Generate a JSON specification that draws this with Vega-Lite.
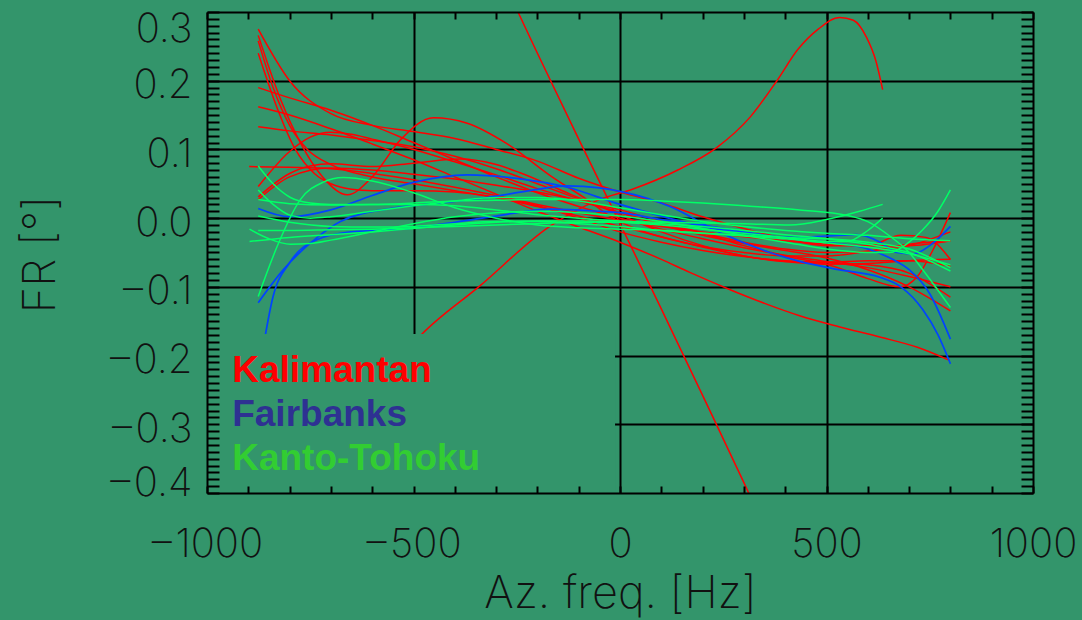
{
  "$schema": "https://vega.github.io/schema/vega-lite/v6.json",
  "width": 826,
  "height": 481,
  "autosize": {"type": "none"},
  "padding": {"left": 207, "top": 12, "right": 49, "bottom": 127},
  "background": "#33956b",
  "config": {"view": {"stroke": null}},
  "datasets": {
    "curves": [
      {"g":"Kalimantan","id":"R1","x":-876,"y":0.275},{"g":"Kalimantan","id":"R1","x":-800,"y":0.2},{"g":"Kalimantan","id":"R1","x":-700,"y":0.152},{"g":"Kalimantan","id":"R1","x":-600,"y":0.135},{"g":"Kalimantan","id":"R1","x":-500,"y":0.126},{"g":"Kalimantan","id":"R1","x":-400,"y":0.116},{"g":"Kalimantan","id":"R1","x":-300,"y":0.1},{"g":"Kalimantan","id":"R1","x":-200,"y":0.083},{"g":"Kalimantan","id":"R1","x":-100,"y":0.058},{"g":"Kalimantan","id":"R1","x":0,"y":0.038},{"g":"Kalimantan","id":"R1","x":100,"y":0.022},{"g":"Kalimantan","id":"R1","x":200,"y":0.002},{"g":"Kalimantan","id":"R1","x":300,"y":-0.015},{"g":"Kalimantan","id":"R1","x":400,"y":-0.03},{"g":"Kalimantan","id":"R1","x":500,"y":-0.04},{"g":"Kalimantan","id":"R1","x":600,"y":-0.04},{"g":"Kalimantan","id":"R1","x":680,"y":-0.025},{"g":"Kalimantan","id":"R1","x":740,"y":-0.028},{"g":"Kalimantan","id":"R1","x":800,"y":-0.06},
      {"g":"Kalimantan","id":"R2","x":-876,"y":0.266},{"g":"Kalimantan","id":"R2","x":-820,"y":0.17},{"g":"Kalimantan","id":"R2","x":-774,"y":0.11},{"g":"Kalimantan","id":"R2","x":-720,"y":0.06},{"g":"Kalimantan","id":"R2","x":-660,"y":0.034},{"g":"Kalimantan","id":"R2","x":-600,"y":0.06},{"g":"Kalimantan","id":"R2","x":-530,"y":0.115},{"g":"Kalimantan","id":"R2","x":-452,"y":0.146},{"g":"Kalimantan","id":"R2","x":-370,"y":0.138},{"g":"Kalimantan","id":"R2","x":-273,"y":0.108},{"g":"Kalimantan","id":"R2","x":-169,"y":0.062},{"g":"Kalimantan","id":"R2","x":-80,"y":0.027},{"g":"Kalimantan","id":"R2","x":-17,"y":0.0},{"g":"Kalimantan","id":"R2","x":50,"y":-0.018},{"g":"Kalimantan","id":"R2","x":150,"y":-0.035},{"g":"Kalimantan","id":"R2","x":300,"y":-0.05},{"g":"Kalimantan","id":"R2","x":400,"y":-0.055},{"g":"Kalimantan","id":"R2","x":500,"y":-0.055},{"g":"Kalimantan","id":"R2","x":600,"y":-0.048},{"g":"Kalimantan","id":"R2","x":700,"y":-0.038},{"g":"Kalimantan","id":"R2","x":800,"y":-0.033},
      {"g":"Kalimantan","id":"R3","x":-876,"y":0.24},{"g":"Kalimantan","id":"R3","x":-830,"y":0.16},{"g":"Kalimantan","id":"R3","x":-786,"y":0.1},{"g":"Kalimantan","id":"R3","x":-740,"y":0.065},{"g":"Kalimantan","id":"R3","x":-700,"y":0.05},{"g":"Kalimantan","id":"R3","x":-650,"y":0.042},{"g":"Kalimantan","id":"R3","x":-600,"y":0.04},{"g":"Kalimantan","id":"R3","x":-500,"y":0.04},{"g":"Kalimantan","id":"R3","x":-400,"y":0.038},{"g":"Kalimantan","id":"R3","x":-300,"y":0.03},{"g":"Kalimantan","id":"R3","x":-200,"y":0.018},{"g":"Kalimantan","id":"R3","x":-100,"y":0.0},{"g":"Kalimantan","id":"R3","x":0,"y":-0.02},{"g":"Kalimantan","id":"R3","x":100,"y":-0.035},{"g":"Kalimantan","id":"R3","x":200,"y":-0.047},{"g":"Kalimantan","id":"R3","x":300,"y":-0.056},{"g":"Kalimantan","id":"R3","x":400,"y":-0.062},{"g":"Kalimantan","id":"R3","x":500,"y":-0.065},{"g":"Kalimantan","id":"R3","x":600,"y":-0.068},{"g":"Kalimantan","id":"R3","x":700,"y":-0.08},{"g":"Kalimantan","id":"R3","x":800,"y":-0.115},
      {"g":"Kalimantan","id":"R4","x":-876,"y":0.258},{"g":"Kalimantan","id":"R4","x":-840,"y":0.19},{"g":"Kalimantan","id":"R4","x":-800,"y":0.135},{"g":"Kalimantan","id":"R4","x":-757,"y":0.1},{"g":"Kalimantan","id":"R4","x":-700,"y":0.078},{"g":"Kalimantan","id":"R4","x":-600,"y":0.06},{"g":"Kalimantan","id":"R4","x":-500,"y":0.05},{"g":"Kalimantan","id":"R4","x":-400,"y":0.04},{"g":"Kalimantan","id":"R4","x":-300,"y":0.03},{"g":"Kalimantan","id":"R4","x":-200,"y":0.017},{"g":"Kalimantan","id":"R4","x":-100,"y":0.003},{"g":"Kalimantan","id":"R4","x":0,"y":-0.012},{"g":"Kalimantan","id":"R4","x":100,"y":-0.027},{"g":"Kalimantan","id":"R4","x":200,"y":-0.042},{"g":"Kalimantan","id":"R4","x":300,"y":-0.055},{"g":"Kalimantan","id":"R4","x":400,"y":-0.063},{"g":"Kalimantan","id":"R4","x":500,"y":-0.064},{"g":"Kalimantan","id":"R4","x":600,"y":-0.062},{"g":"Kalimantan","id":"R4","x":700,"y":-0.062},{"g":"Kalimantan","id":"R4","x":800,"y":-0.07},
      {"g":"Kalimantan","id":"R5","x":-876,"y":0.19},{"g":"Kalimantan","id":"R5","x":-800,"y":0.175},{"g":"Kalimantan","id":"R5","x":-700,"y":0.157},{"g":"Kalimantan","id":"R5","x":-600,"y":0.135},{"g":"Kalimantan","id":"R5","x":-500,"y":0.11},{"g":"Kalimantan","id":"R5","x":-400,"y":0.085},{"g":"Kalimantan","id":"R5","x":-300,"y":0.06},{"g":"Kalimantan","id":"R5","x":-200,"y":0.037},{"g":"Kalimantan","id":"R5","x":-100,"y":0.017},{"g":"Kalimantan","id":"R5","x":0,"y":0.0},{"g":"Kalimantan","id":"R5","x":100,"y":-0.016},{"g":"Kalimantan","id":"R5","x":200,"y":-0.03},{"g":"Kalimantan","id":"R5","x":300,"y":-0.043},{"g":"Kalimantan","id":"R5","x":400,"y":-0.054},{"g":"Kalimantan","id":"R5","x":500,"y":-0.063},{"g":"Kalimantan","id":"R5","x":600,"y":-0.072},{"g":"Kalimantan","id":"R5","x":700,"y":-0.085},{"g":"Kalimantan","id":"R5","x":800,"y":-0.1},
      {"g":"Kalimantan","id":"R6","x":-876,"y":0.162},{"g":"Kalimantan","id":"R6","x":-800,"y":0.15},{"g":"Kalimantan","id":"R6","x":-700,"y":0.13},{"g":"Kalimantan","id":"R6","x":-600,"y":0.108},{"g":"Kalimantan","id":"R6","x":-500,"y":0.085},{"g":"Kalimantan","id":"R6","x":-400,"y":0.06},{"g":"Kalimantan","id":"R6","x":-300,"y":0.035},{"g":"Kalimantan","id":"R6","x":-200,"y":0.01},{"g":"Kalimantan","id":"R6","x":-100,"y":-0.013},{"g":"Kalimantan","id":"R6","x":0,"y":-0.035},{"g":"Kalimantan","id":"R6","x":100,"y":-0.06},{"g":"Kalimantan","id":"R6","x":169,"y":-0.079},{"g":"Kalimantan","id":"R6","x":274,"y":-0.106},{"g":"Kalimantan","id":"R6","x":350,"y":-0.124},{"g":"Kalimantan","id":"R6","x":435,"y":-0.142},{"g":"Kalimantan","id":"R6","x":530,"y":-0.158},{"g":"Kalimantan","id":"R6","x":629,"y":-0.173},{"g":"Kalimantan","id":"R6","x":720,"y":-0.188},{"g":"Kalimantan","id":"R6","x":798,"y":-0.207},
      {"g":"Kalimantan","id":"R7","x":-876,"y":0.133},{"g":"Kalimantan","id":"R7","x":-800,"y":0.127},{"g":"Kalimantan","id":"R7","x":-700,"y":0.121},{"g":"Kalimantan","id":"R7","x":-600,"y":0.113},{"g":"Kalimantan","id":"R7","x":-500,"y":0.104},{"g":"Kalimantan","id":"R7","x":-400,"y":0.09},{"g":"Kalimantan","id":"R7","x":-300,"y":0.072},{"g":"Kalimantan","id":"R7","x":-200,"y":0.05},{"g":"Kalimantan","id":"R7","x":-100,"y":0.028},{"g":"Kalimantan","id":"R7","x":0,"y":0.008},{"g":"Kalimantan","id":"R7","x":100,"y":-0.01},{"g":"Kalimantan","id":"R7","x":200,"y":-0.025},{"g":"Kalimantan","id":"R7","x":300,"y":-0.037},{"g":"Kalimantan","id":"R7","x":400,"y":-0.047},{"g":"Kalimantan","id":"R7","x":500,"y":-0.058},{"g":"Kalimantan","id":"R7","x":600,"y":-0.075},{"g":"Kalimantan","id":"R7","x":700,"y":-0.1},{"g":"Kalimantan","id":"R7","x":800,"y":-0.135},
      {"g":"Kalimantan","id":"R8","x":-898,"y":0.075},{"g":"Kalimantan","id":"R8","x":-800,"y":0.074},{"g":"Kalimantan","id":"R8","x":-700,"y":0.072},{"g":"Kalimantan","id":"R8","x":-600,"y":0.065},{"g":"Kalimantan","id":"R8","x":-500,"y":0.056},{"g":"Kalimantan","id":"R8","x":-400,"y":0.045},{"g":"Kalimantan","id":"R8","x":-300,"y":0.033},{"g":"Kalimantan","id":"R8","x":-200,"y":0.02},{"g":"Kalimantan","id":"R8","x":-100,"y":0.008},{"g":"Kalimantan","id":"R8","x":0,"y":-0.003},{"g":"Kalimantan","id":"R8","x":100,"y":-0.012},{"g":"Kalimantan","id":"R8","x":200,"y":-0.02},{"g":"Kalimantan","id":"R8","x":300,"y":-0.027},{"g":"Kalimantan","id":"R8","x":400,"y":-0.033},{"g":"Kalimantan","id":"R8","x":500,"y":-0.038},{"g":"Kalimantan","id":"R8","x":600,"y":-0.04},{"g":"Kalimantan","id":"R8","x":700,"y":-0.04},{"g":"Kalimantan","id":"R8","x":800,"y":-0.033},
      {"g":"Kalimantan","id":"R9","x":-876,"y":0.046},{"g":"Kalimantan","id":"R9","x":-800,"y":0.097},{"g":"Kalimantan","id":"R9","x":-750,"y":0.118},{"g":"Kalimantan","id":"R9","x":-700,"y":0.125},{"g":"Kalimantan","id":"R9","x":-650,"y":0.122},{"g":"Kalimantan","id":"R9","x":-600,"y":0.115},{"g":"Kalimantan","id":"R9","x":-500,"y":0.1},{"g":"Kalimantan","id":"R9","x":-400,"y":0.082},{"g":"Kalimantan","id":"R9","x":-300,"y":0.063},{"g":"Kalimantan","id":"R9","x":-200,"y":0.043},{"g":"Kalimantan","id":"R9","x":-100,"y":0.025},{"g":"Kalimantan","id":"R9","x":0,"y":0.008},{"g":"Kalimantan","id":"R9","x":100,"y":-0.008},{"g":"Kalimantan","id":"R9","x":200,"y":-0.022},{"g":"Kalimantan","id":"R9","x":300,"y":-0.035},{"g":"Kalimantan","id":"R9","x":400,"y":-0.045},{"g":"Kalimantan","id":"R9","x":500,"y":-0.05},{"g":"Kalimantan","id":"R9","x":600,"y":-0.048},{"g":"Kalimantan","id":"R9","x":700,"y":-0.04},{"g":"Kalimantan","id":"R9","x":800,"y":-0.02},
      {"g":"Kalimantan","id":"R10","x":-876,"y":0.031},{"g":"Kalimantan","id":"R10","x":-800,"y":0.065},{"g":"Kalimantan","id":"R10","x":-750,"y":0.076},{"g":"Kalimantan","id":"R10","x":-700,"y":0.079},{"g":"Kalimantan","id":"R10","x":-600,"y":0.075},{"g":"Kalimantan","id":"R10","x":-500,"y":0.08},{"g":"Kalimantan","id":"R10","x":-387,"y":0.086},{"g":"Kalimantan","id":"R10","x":-300,"y":0.078},{"g":"Kalimantan","id":"R10","x":-242,"y":0.066},{"g":"Kalimantan","id":"R10","x":-121,"y":0.035},{"g":"Kalimantan","id":"R10","x":0,"y":0.005},{"g":"Kalimantan","id":"R10","x":100,"y":-0.02},{"g":"Kalimantan","id":"R10","x":200,"y":-0.04},{"g":"Kalimantan","id":"R10","x":300,"y":-0.055},{"g":"Kalimantan","id":"R10","x":400,"y":-0.063},{"g":"Kalimantan","id":"R10","x":500,"y":-0.067},{"g":"Kalimantan","id":"R10","x":600,"y":-0.066},{"g":"Kalimantan","id":"R10","x":700,"y":-0.062},{"g":"Kalimantan","id":"R10","x":800,"y":-0.06},
      {"g":"Kalimantan","id":"R11","x":-876,"y":0.027},{"g":"Kalimantan","id":"R11","x":-800,"y":0.06},{"g":"Kalimantan","id":"R11","x":-700,"y":0.073},{"g":"Kalimantan","id":"R11","x":-600,"y":0.07},{"g":"Kalimantan","id":"R11","x":-500,"y":0.064},{"g":"Kalimantan","id":"R11","x":-400,"y":0.057},{"g":"Kalimantan","id":"R11","x":-300,"y":0.048},{"g":"Kalimantan","id":"R11","x":-200,"y":0.038},{"g":"Kalimantan","id":"R11","x":-100,"y":0.026},{"g":"Kalimantan","id":"R11","x":0,"y":0.012},{"g":"Kalimantan","id":"R11","x":100,"y":-0.005},{"g":"Kalimantan","id":"R11","x":200,"y":-0.022},{"g":"Kalimantan","id":"R11","x":300,"y":-0.04},{"g":"Kalimantan","id":"R11","x":400,"y":-0.055},{"g":"Kalimantan","id":"R11","x":516,"y":-0.07},{"g":"Kalimantan","id":"R11","x":600,"y":-0.088},{"g":"Kalimantan","id":"R11","x":677,"y":-0.1},{"g":"Kalimantan","id":"R11","x":720,"y":-0.085},{"g":"Kalimantan","id":"R11","x":758,"y":-0.046},{"g":"Kalimantan","id":"R11","x":800,"y":0.008},
      {"g":"Kalimantan","id":"R12","x":-300,"y":0.366},{"g":"Kalimantan","id":"R12","x":-247,"y":0.3},{"g":"Kalimantan","id":"R12","x":-200,"y":0.24},{"g":"Kalimantan","id":"R12","x":-100,"y":0.115},{"g":"Kalimantan","id":"R12","x":0,"y":-0.008},{"g":"Kalimantan","id":"R12","x":100,"y":-0.132},{"g":"Kalimantan","id":"R12","x":200,"y":-0.258},{"g":"Kalimantan","id":"R12","x":300,"y":-0.385},{"g":"Kalimantan","id":"R12","x":350,"y":-0.45},
      {"g":"Kalimantan","id":"R13","x":-620,"y":-0.27},{"g":"Kalimantan","id":"R13","x":-480,"y":-0.169},{"g":"Kalimantan","id":"R13","x":-340,"y":-0.099},{"g":"Kalimantan","id":"R13","x":-170,"y":-0.012},{"g":"Kalimantan","id":"R13","x":-50,"y":0.027},{"g":"Kalimantan","id":"R13","x":30,"y":0.042},{"g":"Kalimantan","id":"R13","x":140,"y":0.07},{"g":"Kalimantan","id":"R13","x":235,"y":0.103},{"g":"Kalimantan","id":"R13","x":315,"y":0.147},{"g":"Kalimantan","id":"R13","x":380,"y":0.2},{"g":"Kalimantan","id":"R13","x":430,"y":0.245},{"g":"Kalimantan","id":"R13","x":480,"y":0.275},{"g":"Kalimantan","id":"R13","x":532,"y":0.292},{"g":"Kalimantan","id":"R13","x":565,"y":0.288},{"g":"Kalimantan","id":"R13","x":597,"y":0.263},{"g":"Kalimantan","id":"R13","x":620,"y":0.228},{"g":"Kalimantan","id":"R13","x":636,"y":0.187},
      {"g":"Fairbanks","id":"B1","x":-876,"y":0.014},{"g":"Fairbanks","id":"B1","x":-800,"y":0.002},{"g":"Fairbanks","id":"B1","x":-700,"y":0.012},{"g":"Fairbanks","id":"B1","x":-600,"y":0.033},{"g":"Fairbanks","id":"B1","x":-500,"y":0.052},{"g":"Fairbanks","id":"B1","x":-370,"y":0.063},{"g":"Fairbanks","id":"B1","x":-250,"y":0.058},{"g":"Fairbanks","id":"B1","x":-128,"y":0.045},{"g":"Fairbanks","id":"B1","x":0,"y":0.02},{"g":"Fairbanks","id":"B1","x":100,"y":0.003},{"g":"Fairbanks","id":"B1","x":200,"y":-0.012},{"g":"Fairbanks","id":"B1","x":300,"y":-0.022},{"g":"Fairbanks","id":"B1","x":411,"y":-0.028},{"g":"Fairbanks","id":"B1","x":500,"y":-0.026},{"g":"Fairbanks","id":"B1","x":573,"y":-0.024},{"g":"Fairbanks","id":"B1","x":630,"y":-0.035},{"g":"Fairbanks","id":"B1","x":670,"y":-0.05},{"g":"Fairbanks","id":"B1","x":710,"y":-0.052},{"g":"Fairbanks","id":"B1","x":750,"y":-0.04},{"g":"Fairbanks","id":"B1","x":800,"y":-0.012},
      {"g":"Fairbanks","id":"B2","x":-876,"y":-0.123},{"g":"Fairbanks","id":"B2","x":-815,"y":-0.075},{"g":"Fairbanks","id":"B2","x":-733,"y":-0.028},{"g":"Fairbanks","id":"B2","x":-677,"y":-0.005},{"g":"Fairbanks","id":"B2","x":-556,"y":0.014},{"g":"Fairbanks","id":"B2","x":-435,"y":0.022},{"g":"Fairbanks","id":"B2","x":-300,"y":0.032},{"g":"Fairbanks","id":"B2","x":-200,"y":0.042},{"g":"Fairbanks","id":"B2","x":-128,"y":0.047},{"g":"Fairbanks","id":"B2","x":-50,"y":0.044},{"g":"Fairbanks","id":"B2","x":0,"y":0.039},{"g":"Fairbanks","id":"B2","x":121,"y":0.017},{"g":"Fairbanks","id":"B2","x":242,"y":-0.021},{"g":"Fairbanks","id":"B2","x":363,"y":-0.05},{"g":"Fairbanks","id":"B2","x":435,"y":-0.063},{"g":"Fairbanks","id":"B2","x":529,"y":-0.075},{"g":"Fairbanks","id":"B2","x":629,"y":-0.086},{"g":"Fairbanks","id":"B2","x":680,"y":-0.1},{"g":"Fairbanks","id":"B2","x":733,"y":-0.133},{"g":"Fairbanks","id":"B2","x":770,"y":-0.17},{"g":"Fairbanks","id":"B2","x":800,"y":-0.212},
      {"g":"Fairbanks","id":"B3","x":-870,"y":-0.21},{"g":"Fairbanks","id":"B3","x":-840,"y":-0.114},{"g":"Fairbanks","id":"B3","x":-800,"y":-0.065},{"g":"Fairbanks","id":"B3","x":-733,"y":-0.031},{"g":"Fairbanks","id":"B3","x":-650,"y":-0.02},{"g":"Fairbanks","id":"B3","x":-532,"y":-0.016},{"g":"Fairbanks","id":"B3","x":-400,"y":-0.006},{"g":"Fairbanks","id":"B3","x":-300,"y":0.003},{"g":"Fairbanks","id":"B3","x":-169,"y":0.013},{"g":"Fairbanks","id":"B3","x":-50,"y":0.01},{"g":"Fairbanks","id":"B3","x":0,"y":0.008},{"g":"Fairbanks","id":"B3","x":100,"y":-0.002},{"g":"Fairbanks","id":"B3","x":200,"y":-0.01},{"g":"Fairbanks","id":"B3","x":300,"y":-0.02},{"g":"Fairbanks","id":"B3","x":411,"y":-0.03},{"g":"Fairbanks","id":"B3","x":500,"y":-0.035},{"g":"Fairbanks","id":"B3","x":600,"y":-0.045},{"g":"Fairbanks","id":"B3","x":660,"y":-0.06},{"g":"Fairbanks","id":"B3","x":700,"y":-0.075},{"g":"Fairbanks","id":"B3","x":750,"y":-0.11},{"g":"Fairbanks","id":"B3","x":800,"y":-0.176},
      {"g":"Kanto-Tohoku","id":"G1","x":-876,"y":0.076},{"g":"Kanto-Tohoku","id":"G1","x":-840,"y":0.05},{"g":"Kanto-Tohoku","id":"G1","x":-798,"y":0.03},{"g":"Kanto-Tohoku","id":"G1","x":-750,"y":0.022},{"g":"Kanto-Tohoku","id":"G1","x":-700,"y":0.02},{"g":"Kanto-Tohoku","id":"G1","x":-600,"y":0.02},{"g":"Kanto-Tohoku","id":"G1","x":-500,"y":0.022},{"g":"Kanto-Tohoku","id":"G1","x":-400,"y":0.025},{"g":"Kanto-Tohoku","id":"G1","x":-300,"y":0.026},{"g":"Kanto-Tohoku","id":"G1","x":-200,"y":0.027},{"g":"Kanto-Tohoku","id":"G1","x":-100,"y":0.027},{"g":"Kanto-Tohoku","id":"G1","x":0,"y":0.027},{"g":"Kanto-Tohoku","id":"G1","x":100,"y":0.025},{"g":"Kanto-Tohoku","id":"G1","x":200,"y":0.022},{"g":"Kanto-Tohoku","id":"G1","x":300,"y":0.018},{"g":"Kanto-Tohoku","id":"G1","x":435,"y":0.012},{"g":"Kanto-Tohoku","id":"G1","x":550,"y":0.004},{"g":"Kanto-Tohoku","id":"G1","x":600,"y":-0.005},{"g":"Kanto-Tohoku","id":"G1","x":653,"y":-0.026},{"g":"Kanto-Tohoku","id":"G1","x":700,"y":-0.05},{"g":"Kanto-Tohoku","id":"G1","x":733,"y":-0.075},{"g":"Kanto-Tohoku","id":"G1","x":800,"y":-0.13},
      {"g":"Kanto-Tohoku","id":"G2","x":-876,"y":0.041},{"g":"Kanto-Tohoku","id":"G2","x":-840,"y":0.02},{"g":"Kanto-Tohoku","id":"G2","x":-798,"y":0.004},{"g":"Kanto-Tohoku","id":"G2","x":-750,"y":0.0},{"g":"Kanto-Tohoku","id":"G2","x":-700,"y":0.002},{"g":"Kanto-Tohoku","id":"G2","x":-600,"y":0.01},{"g":"Kanto-Tohoku","id":"G2","x":-500,"y":0.018},{"g":"Kanto-Tohoku","id":"G2","x":-400,"y":0.025},{"g":"Kanto-Tohoku","id":"G2","x":-300,"y":0.03},{"g":"Kanto-Tohoku","id":"G2","x":-200,"y":0.03},{"g":"Kanto-Tohoku","id":"G2","x":-100,"y":0.025},{"g":"Kanto-Tohoku","id":"G2","x":0,"y":0.015},{"g":"Kanto-Tohoku","id":"G2","x":100,"y":0.005},{"g":"Kanto-Tohoku","id":"G2","x":200,"y":-0.005},{"g":"Kanto-Tohoku","id":"G2","x":300,"y":-0.012},{"g":"Kanto-Tohoku","id":"G2","x":400,"y":-0.018},{"g":"Kanto-Tohoku","id":"G2","x":500,"y":-0.022},{"g":"Kanto-Tohoku","id":"G2","x":600,"y":-0.025},{"g":"Kanto-Tohoku","id":"G2","x":700,"y":-0.03},{"g":"Kanto-Tohoku","id":"G2","x":800,"y":-0.033},
      {"g":"Kanto-Tohoku","id":"G3","x":-876,"y":0.027},{"g":"Kanto-Tohoku","id":"G3","x":-800,"y":0.021},{"g":"Kanto-Tohoku","id":"G3","x":-700,"y":0.019},{"g":"Kanto-Tohoku","id":"G3","x":-600,"y":0.02},{"g":"Kanto-Tohoku","id":"G3","x":-500,"y":0.02},{"g":"Kanto-Tohoku","id":"G3","x":-400,"y":0.018},{"g":"Kanto-Tohoku","id":"G3","x":-300,"y":0.012},{"g":"Kanto-Tohoku","id":"G3","x":-200,"y":0.005},{"g":"Kanto-Tohoku","id":"G3","x":-100,"y":0.0},{"g":"Kanto-Tohoku","id":"G3","x":0,"y":-0.004},{"g":"Kanto-Tohoku","id":"G3","x":100,"y":-0.006},{"g":"Kanto-Tohoku","id":"G3","x":200,"y":-0.007},{"g":"Kanto-Tohoku","id":"G3","x":300,"y":-0.008},{"g":"Kanto-Tohoku","id":"G3","x":411,"y":-0.01},{"g":"Kanto-Tohoku","id":"G3","x":500,"y":-0.002},{"g":"Kanto-Tohoku","id":"G3","x":580,"y":0.01},{"g":"Kanto-Tohoku","id":"G3","x":636,"y":0.02},
      {"g":"Kanto-Tohoku","id":"G4","x":-876,"y":0.003},{"g":"Kanto-Tohoku","id":"G4","x":-800,"y":-0.006},{"g":"Kanto-Tohoku","id":"G4","x":-700,"y":-0.012},{"g":"Kanto-Tohoku","id":"G4","x":-600,"y":-0.013},{"g":"Kanto-Tohoku","id":"G4","x":-500,"y":-0.012},{"g":"Kanto-Tohoku","id":"G4","x":-400,"y":-0.008},{"g":"Kanto-Tohoku","id":"G4","x":-300,"y":-0.005},{"g":"Kanto-Tohoku","id":"G4","x":-200,"y":-0.005},{"g":"Kanto-Tohoku","id":"G4","x":-100,"y":-0.008},{"g":"Kanto-Tohoku","id":"G4","x":0,"y":-0.012},{"g":"Kanto-Tohoku","id":"G4","x":100,"y":-0.018},{"g":"Kanto-Tohoku","id":"G4","x":200,"y":-0.022},{"g":"Kanto-Tohoku","id":"G4","x":300,"y":-0.025},{"g":"Kanto-Tohoku","id":"G4","x":400,"y":-0.028},{"g":"Kanto-Tohoku","id":"G4","x":500,"y":-0.03},{"g":"Kanto-Tohoku","id":"G4","x":600,"y":-0.035},{"g":"Kanto-Tohoku","id":"G4","x":700,"y":-0.045},{"g":"Kanto-Tohoku","id":"G4","x":800,"y":-0.072},
      {"g":"Kanto-Tohoku","id":"G5","x":-897,"y":-0.016},{"g":"Kanto-Tohoku","id":"G5","x":-850,"y":-0.03},{"g":"Kanto-Tohoku","id":"G5","x":-798,"y":-0.038},{"g":"Kanto-Tohoku","id":"G5","x":-750,"y":-0.037},{"g":"Kanto-Tohoku","id":"G5","x":-700,"y":-0.032},{"g":"Kanto-Tohoku","id":"G5","x":-600,"y":-0.02},{"g":"Kanto-Tohoku","id":"G5","x":-500,"y":-0.008},{"g":"Kanto-Tohoku","id":"G5","x":-400,"y":0.002},{"g":"Kanto-Tohoku","id":"G5","x":-300,"y":0.008},{"g":"Kanto-Tohoku","id":"G5","x":-200,"y":0.01},{"g":"Kanto-Tohoku","id":"G5","x":-100,"y":0.008},{"g":"Kanto-Tohoku","id":"G5","x":0,"y":0.003},{"g":"Kanto-Tohoku","id":"G5","x":100,"y":-0.005},{"g":"Kanto-Tohoku","id":"G5","x":200,"y":-0.015},{"g":"Kanto-Tohoku","id":"G5","x":300,"y":-0.025},{"g":"Kanto-Tohoku","id":"G5","x":400,"y":-0.035},{"g":"Kanto-Tohoku","id":"G5","x":500,"y":-0.045},{"g":"Kanto-Tohoku","id":"G5","x":600,"y":-0.05},{"g":"Kanto-Tohoku","id":"G5","x":653,"y":-0.05},{"g":"Kanto-Tohoku","id":"G5","x":700,"y":-0.035},{"g":"Kanto-Tohoku","id":"G5","x":733,"y":-0.017},{"g":"Kanto-Tohoku","id":"G5","x":770,"y":0.01},{"g":"Kanto-Tohoku","id":"G5","x":800,"y":0.041},
      {"g":"Kanto-Tohoku","id":"G6","x":-876,"y":-0.018},{"g":"Kanto-Tohoku","id":"G6","x":-800,"y":-0.018},{"g":"Kanto-Tohoku","id":"G6","x":-700,"y":-0.017},{"g":"Kanto-Tohoku","id":"G6","x":-600,"y":-0.016},{"g":"Kanto-Tohoku","id":"G6","x":-500,"y":-0.014},{"g":"Kanto-Tohoku","id":"G6","x":-400,"y":-0.012},{"g":"Kanto-Tohoku","id":"G6","x":-300,"y":-0.01},{"g":"Kanto-Tohoku","id":"G6","x":-200,"y":-0.008},{"g":"Kanto-Tohoku","id":"G6","x":-100,"y":-0.006},{"g":"Kanto-Tohoku","id":"G6","x":0,"y":-0.006},{"g":"Kanto-Tohoku","id":"G6","x":100,"y":-0.008},{"g":"Kanto-Tohoku","id":"G6","x":200,"y":-0.012},{"g":"Kanto-Tohoku","id":"G6","x":300,"y":-0.018},{"g":"Kanto-Tohoku","id":"G6","x":400,"y":-0.024},{"g":"Kanto-Tohoku","id":"G6","x":500,"y":-0.03},{"g":"Kanto-Tohoku","id":"G6","x":600,"y":-0.038},{"g":"Kanto-Tohoku","id":"G6","x":700,"y":-0.05},{"g":"Kanto-Tohoku","id":"G6","x":800,"y":-0.077},
      {"g":"Kanto-Tohoku","id":"G7","x":-897,"y":-0.034},{"g":"Kanto-Tohoku","id":"G7","x":-800,"y":-0.028},{"g":"Kanto-Tohoku","id":"G7","x":-700,"y":-0.024},{"g":"Kanto-Tohoku","id":"G7","x":-600,"y":-0.02},{"g":"Kanto-Tohoku","id":"G7","x":-500,"y":-0.015},{"g":"Kanto-Tohoku","id":"G7","x":-400,"y":-0.01},{"g":"Kanto-Tohoku","id":"G7","x":-300,"y":-0.006},{"g":"Kanto-Tohoku","id":"G7","x":-200,"y":-0.004},{"g":"Kanto-Tohoku","id":"G7","x":-100,"y":-0.004},{"g":"Kanto-Tohoku","id":"G7","x":0,"y":-0.006},{"g":"Kanto-Tohoku","id":"G7","x":100,"y":-0.01},{"g":"Kanto-Tohoku","id":"G7","x":200,"y":-0.016},{"g":"Kanto-Tohoku","id":"G7","x":300,"y":-0.022},{"g":"Kanto-Tohoku","id":"G7","x":400,"y":-0.028},{"g":"Kanto-Tohoku","id":"G7","x":500,"y":-0.034},{"g":"Kanto-Tohoku","id":"G7","x":549,"y":-0.034},{"g":"Kanto-Tohoku","id":"G7","x":600,"y":-0.018},{"g":"Kanto-Tohoku","id":"G7","x":636,"y":0.0},
      {"g":"Kanto-Tohoku","id":"G8","x":-876,"y":-0.114},{"g":"Kanto-Tohoku","id":"G8","x":-830,"y":-0.041},{"g":"Kanto-Tohoku","id":"G8","x":-774,"y":0.027},{"g":"Kanto-Tohoku","id":"G8","x":-720,"y":0.052},{"g":"Kanto-Tohoku","id":"G8","x":-670,"y":0.059},{"g":"Kanto-Tohoku","id":"G8","x":-600,"y":0.054},{"g":"Kanto-Tohoku","id":"G8","x":-500,"y":0.037},{"g":"Kanto-Tohoku","id":"G8","x":-400,"y":0.015},{"g":"Kanto-Tohoku","id":"G8","x":-300,"y":0.0},{"g":"Kanto-Tohoku","id":"G8","x":-200,"y":-0.01},{"g":"Kanto-Tohoku","id":"G8","x":-100,"y":-0.014},{"g":"Kanto-Tohoku","id":"G8","x":0,"y":-0.016},{"g":"Kanto-Tohoku","id":"G8","x":100,"y":-0.018},{"g":"Kanto-Tohoku","id":"G8","x":200,"y":-0.022},{"g":"Kanto-Tohoku","id":"G8","x":300,"y":-0.026},{"g":"Kanto-Tohoku","id":"G8","x":400,"y":-0.03},{"g":"Kanto-Tohoku","id":"G8","x":500,"y":-0.036},{"g":"Kanto-Tohoku","id":"G8","x":600,"y":-0.042},{"g":"Kanto-Tohoku","id":"G8","x":700,"y":-0.052},{"g":"Kanto-Tohoku","id":"G8","x":800,"y":-0.068}
    ]
  },
  "data": {"name": "curves"},
  "resolve": {"axis": {"x": "independent", "y": "independent"}},
  "layer": [
    {
      "transform": [{"filter": "datum.g === 'Kalimantan'"}],
      "mark": {"type": "line", "stroke": "#ff0000", "strokeWidth": 1.5, "interpolate": "monotone", "clip": true},
      "encoding": {
        "detail": {"field": "id", "type": "nominal"},
        "x": {"field": "x", "type": "quantitative", "scale": {"domain": [-1000, 1000], "nice": false, "zero": false},
          "axis": {"orient": "bottom", "values": [-500, 0, 500], "grid": true, "gridColor": "#000000", "gridWidth": 2, "gridOpacity": 1, "domain": false, "ticks": false, "labels": false, "title": null, "zindex": 0}},
        "y": {"field": "y", "type": "quantitative", "scale": {"domain": [-0.4, 0.3], "nice": false, "zero": false},
          "axis": {"orient": "left", "values": [-0.3, -0.2, -0.1, 0, 0.1, 0.2], "grid": true, "gridColor": "#000000", "gridWidth": 2, "gridOpacity": 1, "domain": false, "ticks": false, "labels": false, "title": null, "zindex": 0}}
      }
    },
    {
      "transform": [{"filter": "datum.g === 'Fairbanks'"}],
      "mark": {"type": "line", "stroke": "#0044ff", "strokeWidth": 1.7, "interpolate": "monotone", "clip": true},
      "encoding": {
        "detail": {"field": "id", "type": "nominal"},
        "x": {"field": "x", "type": "quantitative", "scale": {"domain": [-1000, 1000], "nice": false, "zero": false},
          "axis": {"orient": "bottom", "values": [-1000, -900, -800, -700, -600, -500, -400, -300, -200, -100, 0, 100, 200, 300, 400, 500, 600, 700, 800, 900, 1000],
            "grid": false, "domain": true, "domainColor": "#000000", "domainWidth": 2,
            "ticks": true, "tickSize": -7, "tickColor": "#000000", "tickWidth": 2,
            "format": "d", "labelExpr": "datum.value % 500 === 0 ? replace(datum.label, '\u2212', '\u2013\u200a') : ''",
            "labelFont": "Inter", "labelFontWeight": 200, "labelFontSize": 40, "labelColor": "#111111",
            "labelPadding": 38, "labelOverlap": false, "labelFlush": false, "labelBound": false,
            "title": "Az. freq. [Hz]", "titleFont": "Inter", "titleFontWeight": 200, "titleFontSize": 45, "titleColor": "#111111",
            "titleX": 413, "titleY": 114, "titleAlign": "center", "titleBaseline": "alphabetic", "titleAngle": 0, "zindex": 1}},
        "y": {"field": "y", "type": "quantitative", "scale": {"domain": [-0.4, 0.3], "nice": false, "zero": false},
          "axis": {"orient": "left", "values": [-0.4,-0.39,-0.38,-0.37,-0.36,-0.35,-0.34,-0.33,-0.32,-0.31,-0.3,-0.29,-0.28,-0.27,-0.26,-0.25,-0.24,-0.23,-0.22,-0.21,-0.2,-0.19,-0.18,-0.17,-0.16,-0.15,-0.14,-0.13,-0.12,-0.11,-0.1,-0.09,-0.08,-0.07,-0.06,-0.05,-0.04,-0.03,-0.02,-0.01,0,0.01,0.02,0.03,0.04,0.05,0.06,0.07,0.08,0.09,0.1,0.11,0.12,0.13,0.14,0.15,0.16,0.17,0.18,0.19,0.2,0.21,0.22,0.23,0.24,0.25,0.26,0.27,0.28,0.29,0.3],
            "grid": false, "domain": true, "domainColor": "#000000", "domainWidth": 2,
            "ticks": true, "tickSize": -12, "tickColor": "#000000", "tickWidth": 2,
            "format": ".1f", "labelExpr": "abs(datum.value * 10 - round(datum.value * 10)) < 0.01 ? replace(datum.label, '\u2212', '\u2013\u200a') : ''",
            "labelFont": "Inter", "labelFontWeight": 200, "labelFontSize": 40, "labelColor": "#111111",
            "labelPadding": 27, "labelOverlap": false, "labelFlush": false, "labelBound": false,
            "labelOffset": {"condition": [{"test": "datum.value > 0.29", "value": 17}, {"test": "datum.value < -0.39", "value": -10}], "value": 5},
            "title": "FR [°]", "titleFont": "Inter", "titleFontWeight": 200, "titleFontSize": 45, "titleColor": "#111111",
            "titleX": -153, "titleY": 242, "titleAngle": -90, "titleAlign": "center", "titleBaseline": "alphabetic", "zindex": 1}}
      }
    },
    {
      "transform": [{"filter": "datum.g === 'Kanto-Tohoku'"}],
      "mark": {"type": "line", "stroke": "#00ff66", "strokeWidth": 1.5, "interpolate": "monotone", "clip": true},
      "encoding": {
        "detail": {"field": "id", "type": "nominal"},
        "x": {"field": "x", "type": "quantitative", "scale": {"domain": [-1000, 1000], "nice": false, "zero": false},
          "axis": {"orient": "top", "values": [-1000, -900, -800, -700, -600, -500, -400, -300, -200, -100, 0, 100, 200, 300, 400, 500, 600, 700, 800, 900, 1000],
            "grid": false, "domain": true, "domainColor": "#000000", "domainWidth": 2,
            "ticks": true, "tickSize": -7, "tickColor": "#000000", "tickWidth": 2, "labels": false, "title": null, "zindex": 1}},
        "y": {"field": "y", "type": "quantitative", "scale": {"domain": [-0.4, 0.3], "nice": false, "zero": false},
          "axis": {"orient": "right", "values": [-0.4,-0.39,-0.38,-0.37,-0.36,-0.35,-0.34,-0.33,-0.32,-0.31,-0.3,-0.29,-0.28,-0.27,-0.26,-0.25,-0.24,-0.23,-0.22,-0.21,-0.2,-0.19,-0.18,-0.17,-0.16,-0.15,-0.14,-0.13,-0.12,-0.11,-0.1,-0.09,-0.08,-0.07,-0.06,-0.05,-0.04,-0.03,-0.02,-0.01,0,0.01,0.02,0.03,0.04,0.05,0.06,0.07,0.08,0.09,0.1,0.11,0.12,0.13,0.14,0.15,0.16,0.17,0.18,0.19,0.2,0.21,0.22,0.23,0.24,0.25,0.26,0.27,0.28,0.29,0.3],
            "grid": false, "domain": true, "domainColor": "#000000", "domainWidth": 2,
            "ticks": true, "tickSize": -12, "tickColor": "#000000", "tickWidth": 2, "labels": false, "title": null, "zindex": 1}}
      }
    },
    {
      "data": {"values": [{"box": "legend"}]},
      "mark": {"type": "rect", "fill": "#33956b", "strokeWidth": 0},
      "encoding": {
        "x": {"datum": -1000, "type": "quantitative", "scale": {"domain": [-1000, 1000], "nice": false, "zero": false}, "axis": null},
        "x2": {"datum": -12},
        "y": {"datum": -0.4, "type": "quantitative", "scale": {"domain": [-0.4, 0.3], "nice": false, "zero": false}, "axis": null},
        "y2": {"datum": -0.1686}
      }
    },
    {
      "data": {"values": [{"label": "Kalimantan"}, {"label": "Fairbanks"}, {"label": "Kanto-Tohoku"}]},
      "mark": {"type": "text", "align": "left", "baseline": "alphabetic", "font": "Liberation Sans", "fontWeight": "bold", "fontSize": 37},
      "encoding": {
        "x": {"datum": -939, "type": "quantitative", "scale": {"domain": [-1000, 1000], "nice": false, "zero": false}, "axis": null},
        "y": {"datum": -0.238, "type": "quantitative", "scale": {"domain": [-0.4, 0.3], "nice": false, "zero": false}, "axis": null},
        "yOffset": {"field": "label", "type": "nominal", "scale": {"type": "point", "domain": ["Kalimantan", "Fairbanks", "Kanto-Tohoku"], "range": [0, 88], "padding": 0}},
        "text": {"field": "label", "type": "nominal"},
        "fill": {"field": "label", "type": "nominal", "scale": {"domain": ["Kalimantan", "Fairbanks", "Kanto-Tohoku"], "range": ["#ff0000", "#2e3192", "#32cd32"]}, "legend": null}
      }
    }
  ]
}
